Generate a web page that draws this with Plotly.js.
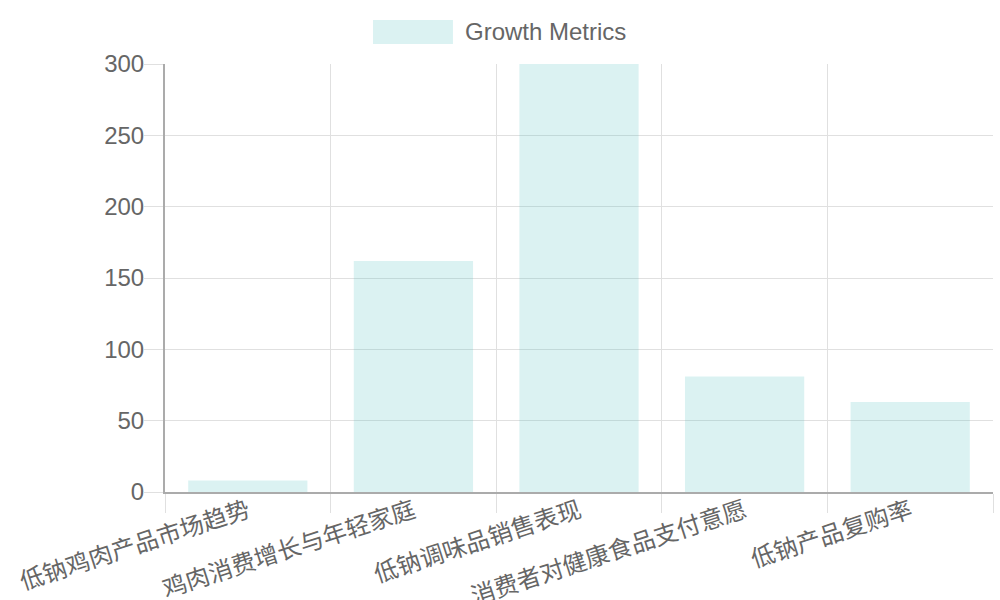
<!DOCTYPE html>
<html>
<head>
<meta charset="utf-8">
<script src="https://cdn.plot.ly/plotly-3.0.1.min.js"></script>
<style>
  html, body { margin: 0; padding: 0; background: #fff; }
  #chart { width: 1000px; height: 600px; }
</style>
</head>
<body>
<div id="chart"></div>
<script>
// chart data
const categories = [
  '低钠鸡肉产品市场趋势',
  '鸡肉消费增长与年轻家庭',
  '低钠调味品销售表现',
  '消费者对健康食品支付意愿',
  '低钠产品复购率'
];
const growthValues = [8, 162, 300, 81, 63];
const seriesName = 'Growth Metrics';

const barFill = 'rgba(75,192,192,0.2)';
const gridColor = '#e0e0e0';
const axisColor = '#ababab';
const textColor = '#666666';
const fontFamily = '"Liberation Sans", Arial, "Noto Sans CJK SC", sans-serif';

const trace = {
  type: 'bar',
  x: categories,
  y: growthValues,
  name: seriesName,
  marker: { color: barFill, line: { width: 0 } },
  hoverinfo: 'x+y'
};

const layout = {
  width: 1000,
  height: 600,
  margin: { l: 165, r: 7, t: 64, b: 108 },
  paper_bgcolor: '#ffffff',
  plot_bgcolor: '#ffffff',
  font: { family: fontFamily, color: textColor, size: 24 },
  showlegend: false,
  bargap: 0.28,
  xaxis: {
    type: 'category',
    tickson: 'boundaries',
    showgrid: true,
    gridcolor: gridColor,
    ticks: 'outside',
    ticklen: 19,
    tickcolor: gridColor,
    tickangle: -18,
    ticklabelstandoff: -6,
    tickfont: { size: 24, color: textColor },
    showline: true,
    linecolor: axisColor,
    linewidth: 2,
    zeroline: false
  },
  yaxis: {
    range: [0, 300],
    dtick: 50,
    showgrid: true,
    gridcolor: gridColor,
    ticks: 'outside',
    ticklen: 19,
    tickcolor: gridColor,
    ticklabelstandoff: -5,
    tickfont: { size: 24, color: textColor },
    showline: true,
    linecolor: axisColor,
    linewidth: 2,
    zeroline: false
  },
  // legend drawn as a wide box + label, like the reference
  shapes: [{
    type: 'rect',
    xref: 'paper', yref: 'paper',
    x0: 0.2512, x1: 0.3478, y0: 1.0467, y1: 1.1028,
    fillcolor: barFill,
    line: { width: 0 }
  }],
  annotations: [{
    xref: 'paper', yref: 'paper',
    x: 0.3599, y: 1.0748,
    xanchor: 'left', yanchor: 'middle',
    text: seriesName,
    showarrow: false,
    font: { size: 24, color: textColor }
  }]
};

Plotly.newPlot('chart', [trace], layout, { displayModeBar: false, staticPlot: true });
</script>
</body>
</html>
